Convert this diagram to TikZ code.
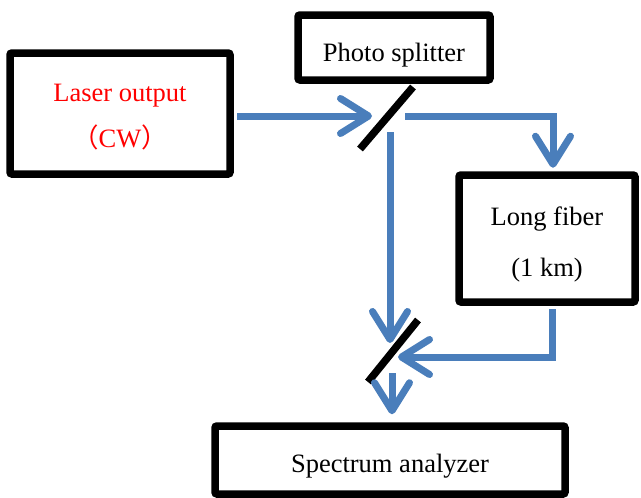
\documentclass[tikz,border=0pt]{standalone}
\usepackage{fontspec}
\setmainfont{Liberation Serif}
\newfontfamily\cjk{Noto Sans CJK SC}
\usetikzlibrary{arrows.meta,positioning}
\definecolor{beam}{HTML}{4A7EBB}
\definecolor{laserred}{HTML}{FF0000}

\tikzset{
  blk/.style={draw, line width=7.5pt, rounded corners=2pt, inner sep=0pt,
    font=\fontsize{26.5}{30}\selectfont},
  ray/.style={draw=beam, line width=7pt,
    -{Straight Barb[length=28pt,width=35pt,round]}},
  mirror/.style={line width=7.5pt},
}

\begin{document}
\begin{tikzpicture}[x=1pt,y=-1pt]

    \useasboundingbox (0,0) rectangle (641,498);

    \node[blk, text=laserred, minimum width=220pt, minimum height=121pt,
      text height=0pt, text depth=25pt] (laser) at (120,113.5) {
    \begin{tabular}[t]{c}
    Laser output\\[15pt]
    {\cjk （}CW{\cjk ）}
    \end{tabular}
    };

    % ----------

    \node[blk, minimum width=192pt, minimum height=65pt,
      text height=27pt, text depth=0pt] (splitter) at (394,47.5) {Photo splitter};

    \node[blk, minimum width=176pt, minimum height=127pt,
      text height=0pt, text depth=27pt] (fiber) at (547,238.5) {
    \begin{tabular}[t]{c}
    Long fiber\\[21pt]
    (1 km)
    \end{tabular}
    };

    \node[blk, minimum width=350pt, minimum height=68pt,
      text height=24pt, text depth=0pt] (analyzer) at (390,460) {Spectrum analyzer};

    % ----------

    \coordinate (m1a) at (360,149);
    \coordinate (m1b) at (413,87);
    \coordinate (m2a) at (368,382);
    \coordinate (m2b) at (418,320);

    \draw[mirror] (m1a) -- (m1b);
    \draw[mirror] (m2a) -- (m2b);

    % -------

    \coordinate (in1) at (372,116);
    \coordinate (out1r) at (405,116);
    \coordinate (out1d) at (390,132);
    \coordinate (in2a) at (390,343);
    \coordinate (in2b) at (398,357);
    \coordinate (out2) at (392,373);

    \draw[ray] ([shift={(3.5pt,-2.5pt)}]laser.east) -- (in1);
    \draw[ray] (out1r) -| ([shift={(6pt,3.5pt)}]fiber.north);
    \draw[ray] (out1d) -- (in2a);
    \draw[ray] ([shift={(5pt,-3.5pt)}]fiber.south) |- (in2b);
    \draw[ray] (out2) -- ([shift={(2pt,8pt)}]analyzer.north);

\end{tikzpicture}
\end{document}
